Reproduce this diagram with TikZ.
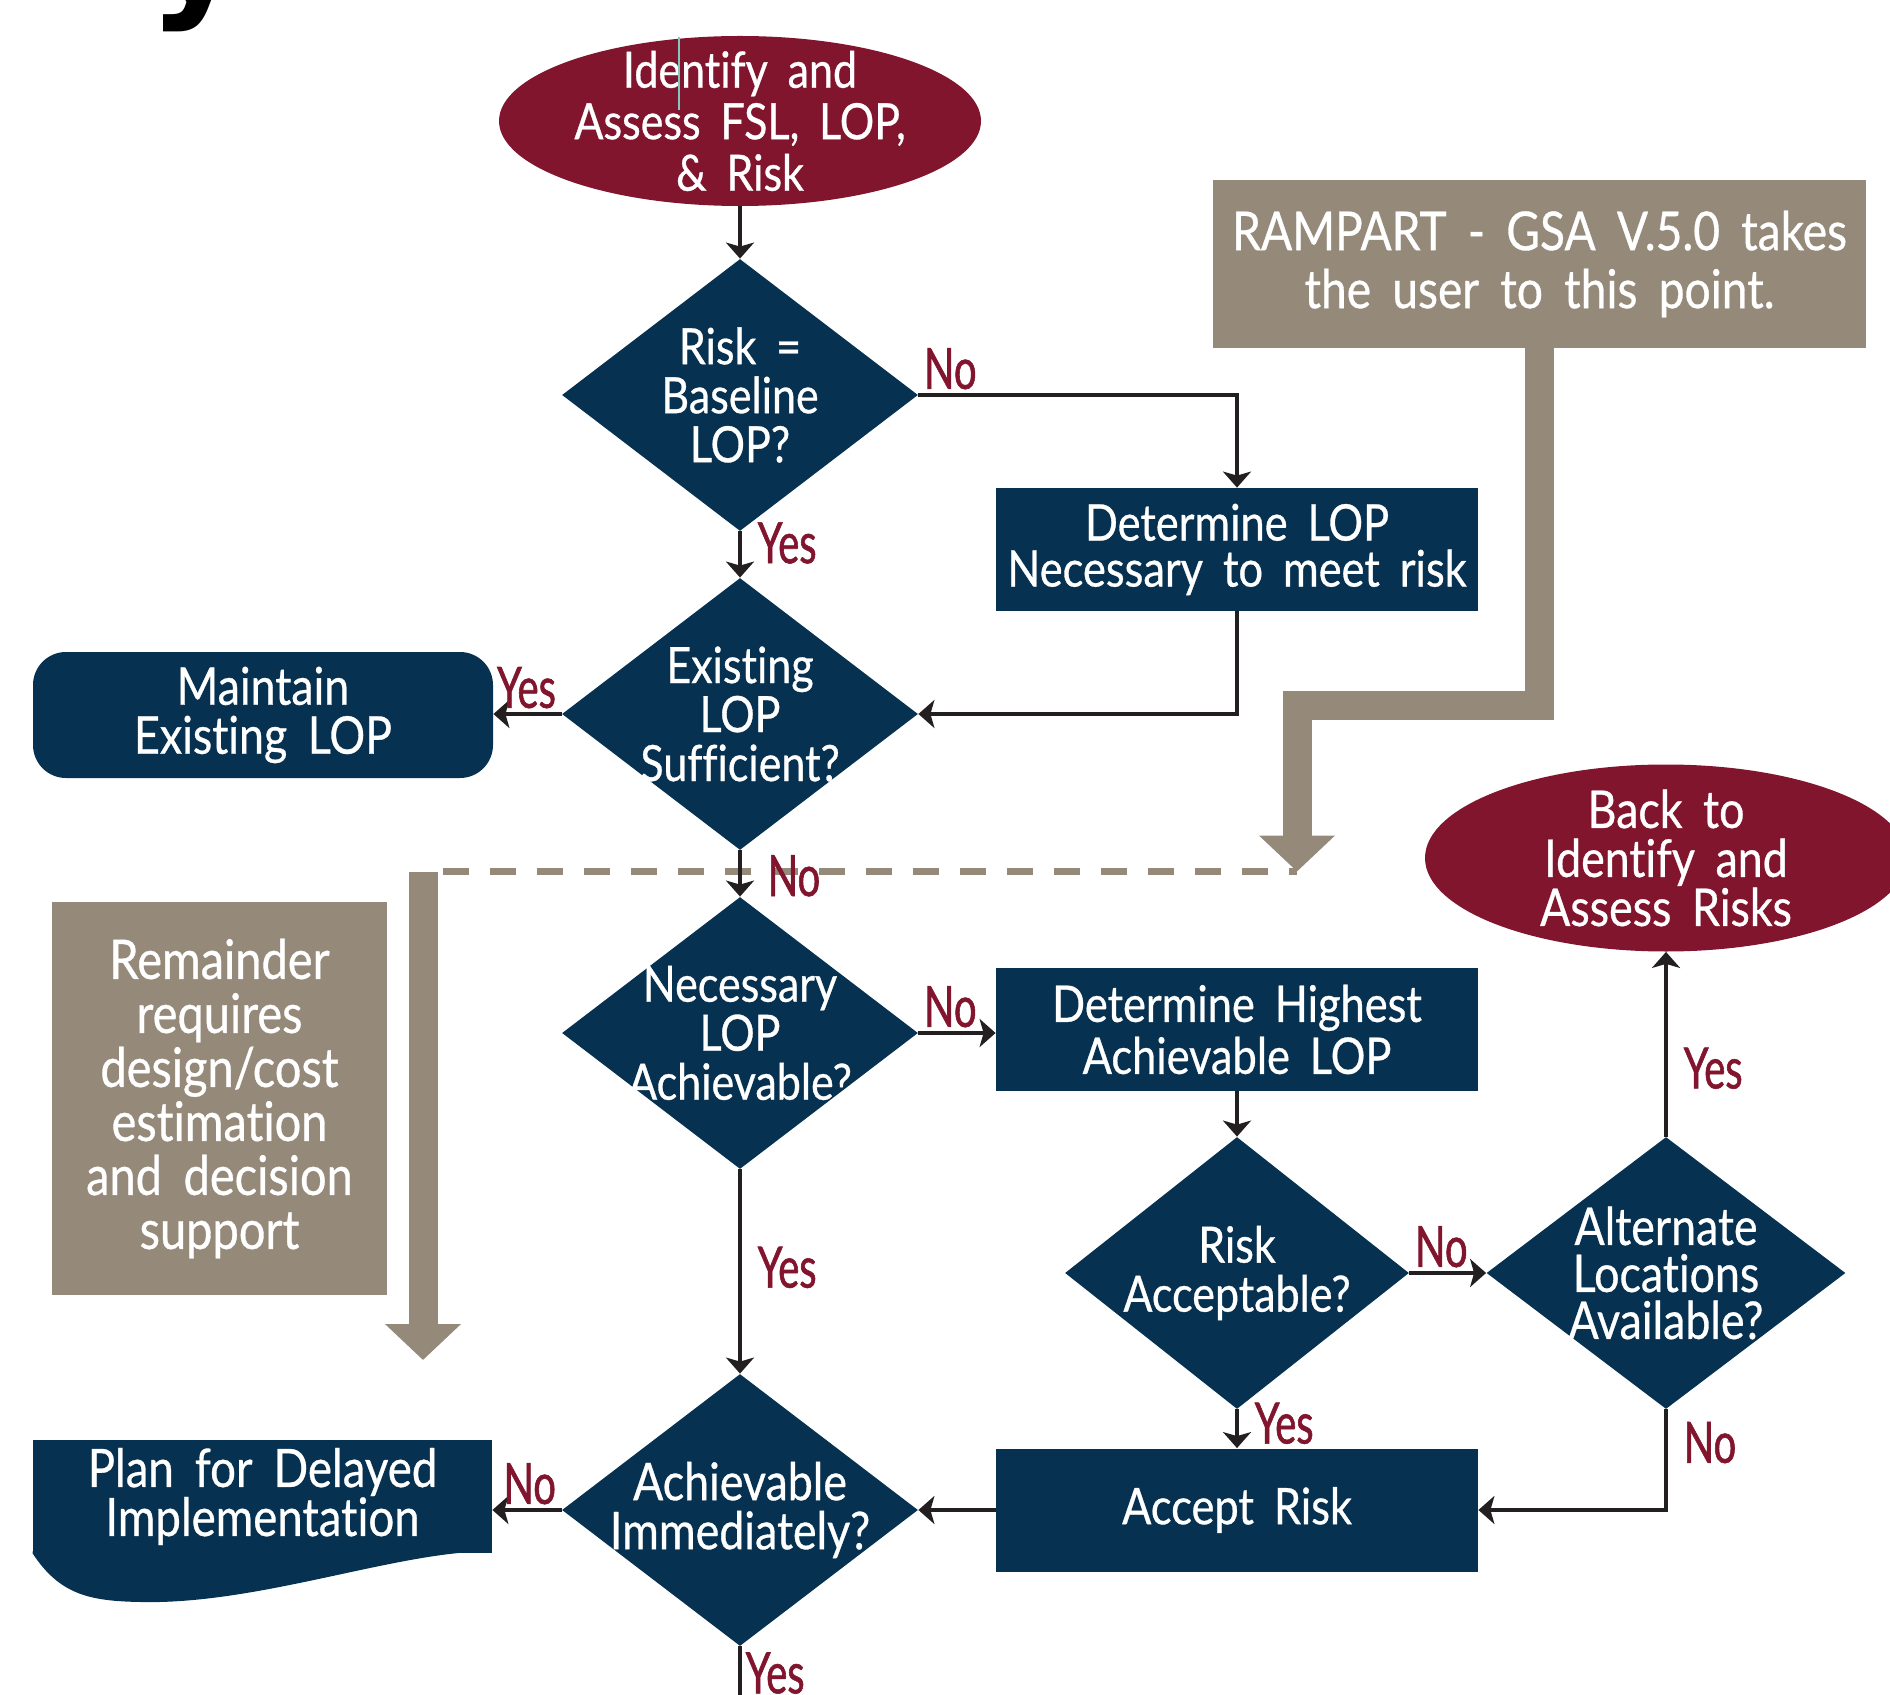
\documentclass[tikz,border=0pt]{standalone}
\usepackage{fontspec}
\setmainfont{Lato}[FakeStretch=0.86,WordSpace=1.8,FakeBold=0.6,Ligatures=NoCommon]
\newfontfamily\lblfont{Lato}[FakeStretch=0.7,FakeBold=1,Ligatures=NoCommon]
\newfontfamily\ttlfont{DejaVu Sans}[BoldFont={* Bold}]
\usepackage{tikz}
\usetikzlibrary{shapes,arrows}
\usetikzlibrary{arrows.meta, positioning}

\definecolor{navy}{RGB}{6,49,80}
\definecolor{wine}{RGB}{130,21,46}
\definecolor{taupe}{RGB}{149,138,122}
\definecolor{ink}{RGB}{35,31,32}
\definecolor{cursor}{RGB}{130,200,190}

\begin{document}
\begin{tikzpicture}[x=0.5pt, y=-0.5pt, node distance=159.5pt,
    every node/.style={font=\fontsize{25}{24.5}\selectfont},
    box/.style={rectangle, fill=navy, text=white, align=center, inner sep=0pt, minimum width=241pt, minimum height=61.5pt},
    dia/.style={diamond, fill=navy, text=white, align=center, inner sep=-30pt, minimum width=178pt, minimum height=136pt},
    oval/.style={ellipse, fill=wine, text=white, align=center, inner sep=-20pt, minimum width=241pt, minimum height=85pt},
    note/.style={rectangle, fill=taupe, text=white, align=center, inner sep=0pt},
    lbl/.style={text=wine, inner sep=2pt, font=\lblfont\fontsize{28.5}{28}\selectfont},
    flow/.style={draw=ink, line width=1.7pt, -{Stealth[length=8pt, width=14pt, inset=2pt]}},
    band/.style={draw=taupe, line width=14.5pt, line join=miter, -{Triangle[length=18pt, width=37pt]}},
    gdash/.style={draw=taupe, line width=3.75pt, dash pattern=on 13pt off 10.5pt, dash phase=13.5pt}]
    \useasboundingbox (0,0) rectangle (1890,1695);

    \node[anchor=base west, inner sep=0pt] (0) at (148,0) {\ttlfont\bfseries\fontsize{75}{75}\selectfont y};

    \node[oval, font=\fontsize{25}{25.75}\selectfont] (1) at (740,121) {Identify and\\Assess FSL, LOP,\\\& Risk};
    \node[dia] (2) at (740,395) {Risk =\\Baseline\\LOP?};
    \node[dia] (3) [below of=2] {Existing\\LOP\\Sufficient?};
    \node[dia] (4) [below of=3] {Necessary\\LOP\\Achievable?};
    \node[dia, font=\fontsize{26}{24.5}\selectfont] (5) at (740,1510) {Achievable\\Immediately?};
    \node[box, font=\fontsize{25.2}{23}\selectfont] (6) at (1237,549.5) {Determine LOP\\Necessary to meet risk};
    \node[box, font=\fontsize{25.2}{26}\selectfont] (7) at (1237,1029.5) {Determine Highest\\Achievable LOP};
    \node[dia, minimum width=172pt] (8) at (1237,1273) {Risk\\Acceptable?};
    \node[dia, minimum width=179.5pt, font=\fontsize{26}{23.5}\selectfont] (9) at (1666,1273) {Alternate\\Locations\\Available?};
    \node[oval, minimum height=93.5pt, font=\fontsize{26}{24.5}\selectfont] (10) at (1666,858) {Back to\\Identify and\\Assess Risks};
    \node[box, font=\fontsize{25.2}{26}\selectfont] (11) at (1237,1510) {Accept Risk};
    \node[box, rounded corners=16.5pt, minimum width=230pt, minimum height=63pt, font=\fontsize{26}{24.5}\selectfont] (12) at (263,715) {Maintain\\Existing LOP};
    \node[box, minimum width=229.5pt, minimum height=56.5pt, font=\fontsize{26.5}{24.5}\selectfont] (13) at (262.5,1496.5) {Plan for Delayed\\Implementation};
    \node[note, minimum width=326.5pt, minimum height=84pt, font=\fontsize{26.8}{29}\selectfont] (14) at (1539.5,264) {RAMPART - GSA V.5.0 takes\\the user to this point.};
    \node[note, minimum width=167.5pt, minimum height=196.5pt, font=\fontsize{27.3}{27}\selectfont] (15) at (219.5,1098.5) {Remainder\\requires\\design/cost\\estimation\\and decision\\support};

    \fill[navy] ([yshift=1pt]13.south east) .. controls (400,1550) and (260,1605) .. (140,1602)
        .. controls (90,1601) and (60,1595) .. (13.south west) -- ([yshift=1pt]13.south west) -- cycle;
    \draw[cursor, line width=1pt] (679,37) -- (679,110);

    \coordinate (16) at (1297,871.5);
    \coordinate (17) at (423,871.5);
    \coordinate (18) at (1297,705);
    \coordinate (19) at (423,1360);
    \draw[gdash] (17) -- (16);
    \draw[band] (14.south) |- (18) -- (16);
    \draw[band] (17) -- (19);

    \draw[flow] (1) -- (2);
    \draw[flow] (2) -| node[lbl, pos=0, anchor=south west] (20) {No} (6);
    \draw[flow] (2) -- node[lbl, pos=0.25, right=6pt] (21) {Yes} (3);
    \draw[flow] (6) |- (3);
    \draw[flow] (3.west) -- node[lbl, pos=0, anchor=south east] (22) {Yes} (3.west -| 12.east);
    \draw[flow] (3) -- node[lbl, pos=0.55, right=11pt] (23) {No} (4);
    \draw[flow] (4.east) -- node[lbl, pos=0, anchor=south west] (24) {No} (4.east -| 7.west);
    \draw[flow] (7) -- (8);
    \draw[flow] (8) -- node[lbl, pos=0, anchor=south west] (25) {No} (9);
    \draw[flow] (9) -- node[lbl, pos=0.37, right=6pt] (26) {Yes} (10);
    \draw[flow] (9) |- node[lbl, pos=0.165, right=6pt] (27) {No} (11);
    \draw[flow] (8) -- node[lbl, pos=0.36, right=6pt] (28) {Yes} (11);
    \draw[flow] (11) -- (5);
    \draw[flow] (4) -- node[lbl, pos=0.48, right=6pt] (29) {Yes} (5);
    \draw[flow] (5.west) -- node[lbl, pos=0, anchor=south east] (30) {No} (5.west -| 13.east);
    \coordinate (31) at (740,1710);
    \draw[draw=ink, line width=1.7pt] (5) -- node[lbl, pos=0.42, right=0pt] (32) {Yes} (31);
\end{tikzpicture}
\end{document}
